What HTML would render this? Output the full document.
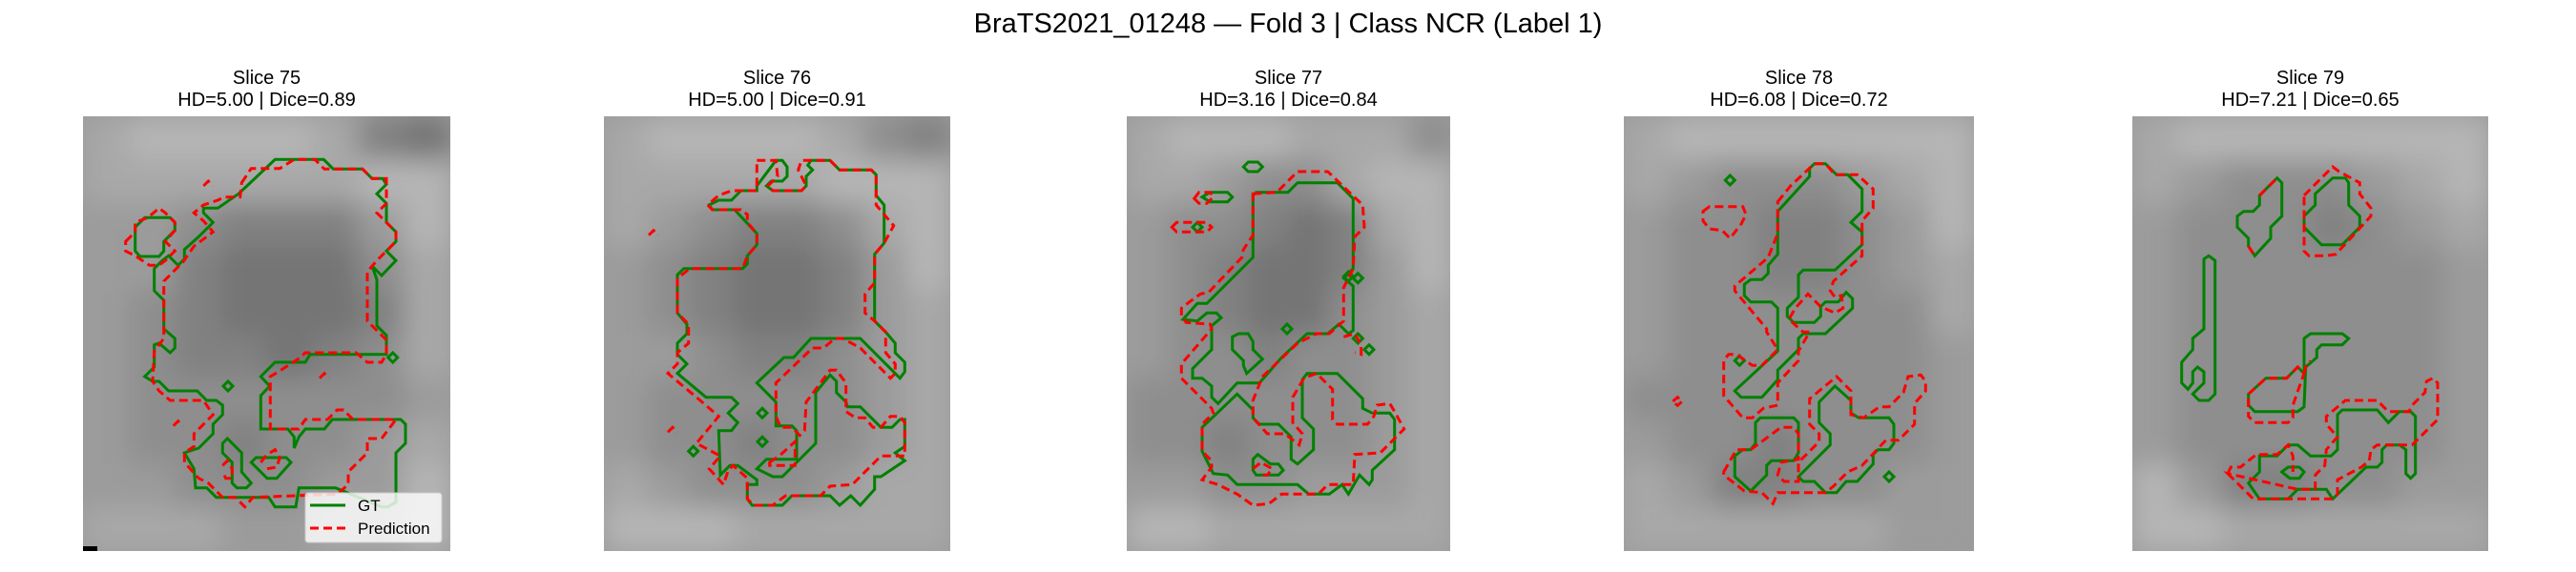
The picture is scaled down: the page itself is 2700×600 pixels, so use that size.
<!DOCTYPE html>
<html><head><meta charset="utf-8"><style>
html,body{margin:0;padding:0;background:#fff;}
svg{display:block;font-family:"Liberation Sans","DejaVu Sans",sans-serif;}
</style></head><body>
<svg id="fig" width="2700" height="600" viewBox="0 0 2700 600">
<defs><filter id="soft" x="-5%" y="-5%" width="110%" height="110%"><feGaussianBlur stdDeviation="14"/></filter></defs>
<text x="1350" y="34" font-size="29" text-anchor="middle" fill="#000">BraTS2021_01248 — Fold 3 | Class NCR (Label 1)</text>
</svg>
<script>
const panelTitles=["Slice 75","Slice 76","Slice 77","Slice 78","Slice 79"];
const hdValues=["5.00","5.00","3.16","6.08","7.21"];
const diceValues=["0.89","0.91","0.84","0.72","0.65"];
const panelBoxes=[[87,122,385,456,80,115],[633,122,363,456,630,115],[1181,122,339,456,1180,115],[1702,122,367,456,1700,115],[2235,122,373,456,2235,115]];
const intensity=[
["67777632","66666677","55433357","55322246","54322236","54332346","54444445","54434456","55444557","66655667"],
["67777643","66666777","65433467","54322357","54322356","55433456","54444456","54434456","65444566","77766666"],
["67776664","66544677","54432367","54322357","54322456","54434456","44444456","44344456","55445556","77666666"],
["67777777","65444567","54433457","54433456","54444446","54444445","44444445","54434445","65334455","66666655"],
["67777777","65444567","54443456","54444445","54444445","54444445","54444445","54444445","75334455","77666666"]];
const gtContours=[
["625,157 778,157 808,187 900,187 930,217 963,217 975,235 945,265 975,295 975,355 1005,385 1005,415 975,445 1005,475 960,522 930,492 945,535 945,680 975,710 975,770 735,770 720,795 625,795 580,840 608,870 580,900 580,1005 665,1005 685,1030 685,1065 700,1030 720,1005 780,1005 805,975 1020,975 1035,990 1035,1050 1005,1080 1005,1235 980,1250 960,1250 815,1190 700,1190 690,1250 625,1250 605,1220 440,1220 410,1190 375,1190 370,1130 340,1080 385,1065 430,1020 430,990 460,960 460,930 440,915 410,915 380,885 290,885 260,855 240,855 215,840 245,810 245,740 260,735 295,765 310,750 310,720 275,690 275,600 245,570 245,500 270,475 290,460 320,490 340,470 340,440 385,400 430,355 400,325 400,310 445,310 510,265",
"185,370 215,340 295,340 310,355 310,380 275,415 275,445 260,462 200,462 185,445",
"462,870 477,855 492,870 477,885","980,780 995,765 1010,780 995,795",
"460,1050 475,1035 520,1080 520,1140 550,1175 535,1190 505,1190 490,1175 490,1110 460,1080",
"550,1110 565,1095 660,1095 675,1110 630,1160 600,1160"],
["490,240 520,200 550,160 570,160 585,180 585,210 570,225 535,225 520,240 540,255 630,255 645,240 645,210 665,190 650,175 660,160 720,160 750,190 850,190 865,205 865,270 890,300 890,420 860,455 860,665 895,700 925,735 925,765 955,795 955,825 940,845 815,720 660,720 605,780 575,780 490,860 550,920 550,995 600,995 615,1010 615,1100 520,1100 490,1130 540,1155 570,1155 675,1050 675,890 720,835 740,855 740,890 770,920 775,935 815,935 880,1000 915,1000 940,975 955,975 955,1060 925,1080 955,1105 880,1155 860,1155 860,1195 815,1245 785,1215 750,1245 720,1215 600,1215 570,1245 475,1245 460,1225 460,1180 490,1180 490,1165 430,1120 405,1120 375,1150 370,1010 410,1010 430,985 400,955 430,925 410,905 330,905 240,830 270,800 240,770 240,735 270,705 270,675 240,640 240,520 260,500 445,500 460,485 460,460 490,425 490,390 420,315 350,315 340,300 370,285 410,285 440,255 490,255",
"492,955 507,940 522,955 507,970","492,1045 507,1030 522,1045 507,1060","275,1075 290,1060 305,1075 290,1090"],
["400,270 410,260 510,260 540,230 665,230 715,280 715,500 685,530 715,555 715,695 700,705 670,675 635,705 570,705 490,780 420,860 350,860 290,925 270,905 270,870 240,845 210,845 210,815 270,755 270,680 300,655 285,640 255,640 225,665 180,660 225,610 255,610 400,465",
"240,1000 350,895 400,945 400,970 420,990 480,990 520,1030 520,1100 540,1115 590,1070 590,1005 555,970 555,850 570,830 665,830 745,910 745,940 775,955 830,955 845,975 845,1070 775,1135 775,1165 765,1180 735,1150 700,1210 680,1180 640,1210 575,1210 540,1180 350,1180 320,1150 275,1145 240,1075",
"335,715 355,705 385,705 400,730 400,755 430,785 380,830 370,805 370,790 335,755",
"370,180 385,165 415,165 430,180 415,195 385,195","240,275 265,260 320,260 335,275 320,290 265,290",
"210,370 225,355 240,370 225,385","492,690 507,675 522,690 507,705","715,530 730,515 745,530 730,545","685,525 700,510 715,525 700,540","715,720 730,705 745,720 730,735","750,755 765,740 780,755 765,770",
"400,1100 415,1085 455,1115 480,1115 495,1135 480,1150 410,1150 400,1135"],
["490,320 590,210 590,185 605,170 640,170 675,205 710,205 755,250 755,320 720,355 755,385 755,425 670,505 570,505 555,520 555,590 520,625 520,650 540,670 605,670 625,650 625,620 640,605 680,605 705,575 725,595 725,625 640,705 570,705 555,720 555,755 490,820 490,850 440,905 375,905 355,885 490,760 490,625 470,605 405,605 385,585 385,550 405,535 440,535 460,515 460,490 490,455",
"355,1090 380,1070 405,1070 420,1050 420,985 435,970 540,970 555,985 555,1080 540,1105 470,1105 455,1120 455,1150 405,1200 355,1155",
"555,1155 655,1055 655,1020 620,985 620,920 670,870 720,915 720,955 745,970 840,970 855,990 855,1050 840,1070 805,1070 790,1085 790,1115 740,1170 705,1170 675,1205 640,1205 605,1170 570,1170",
"325,222 340,207 355,222 340,237","355,790 370,775 385,790 370,805","825,1155 840,1140 855,1155 840,1170"],
["330,335 350,320 380,320 400,300 400,270 455,215 470,230 470,335 435,370 435,405 385,460 365,430 365,405 330,370",
"540,335 575,300 575,265 630,215 670,215 680,230 680,300 715,335 715,370 660,425 595,425 540,370",
"225,470 240,460 260,475 260,895 240,915 210,915 190,895 225,860 225,825 205,810 190,825 190,860 175,880 155,860 155,795 190,755 190,720 225,690",
"365,895 420,845 485,845 520,810 540,830 540,780 540,720 560,705 660,705 680,720 660,740 595,740 580,755 580,780 545,810 540,935 520,950 385,950 365,930",
"365,1175 400,1140 400,1090 455,1090 490,1055 520,1055 560,1090 625,1090 645,1070 645,960 660,945 770,945 805,985 840,950 875,950 890,965 890,1145 875,1160 860,1145 860,1070 840,1055 800,1055 785,1070 785,1110 770,1125 735,1125 630,1225 610,1195 520,1195 490,1225 400,1225",
"470,1140 490,1125 525,1125 540,1140 525,1160 495,1160"]];
const predContours=[
["520,230 550,185 640,185 685,157 750,157 780,187 900,187 930,217 975,217 975,295 945,325 975,355 1005,385 1005,415 945,475 915,510 915,665 945,695 975,725 975,770 960,795 915,795 880,765 720,765 705,780 635,825 610,840 610,1005 700,1005 720,975 790,975 820,945 840,945 870,975 1005,975 960,1035 915,1035 915,1080 855,1140 855,1180 820,1210 555,1220 530,1250 500,1220 460,1220 415,1175 385,1160 340,1110 340,1080 370,1060 370,1020 430,960 400,915 295,915 260,885 240,855 245,760 275,720 275,540 335,480 370,430 430,385 400,350 370,325 400,300 445,285 465,275 515,275",
"155,415 185,385 185,355 225,340 260,310 280,325 310,355 310,380 280,415 310,445 280,475 260,490 230,490 185,460 155,445",
"400,240 415,225 430,240","765,845 780,830 795,845","305,995 320,980 335,995",
"460,1120 475,1105 490,1130 490,1160 470,1160 460,1140","580,1110 600,1085 625,1070 640,1095 630,1125 600,1130"],
["490,160 550,160 555,210 525,240 540,255 630,255 645,240 620,190 630,160 720,160 750,190 850,190 865,205 865,300 920,365 890,420 860,455 860,545 830,580 830,640 860,665 895,700 895,765 925,800 925,830 910,845 815,750 760,720 735,720 700,750 665,750 550,860 550,965 565,1000 600,1000 625,1025 640,1010 645,920 720,820 740,820 770,860 770,950 800,970 830,970 855,1000 880,1000 910,965 940,965 955,985 955,1090 880,1090 790,1180 720,1185 690,1215 580,1215 540,1245 480,1245 460,1225 460,1160 415,1120 400,1135 385,1180 340,1130 375,1090 300,1050 370,965 300,905 210,830 240,800 240,765 275,735 275,675 240,640 240,530 280,500 445,500 460,460 490,425 490,390 460,355 460,330 440,315 350,315 335,300 370,270 410,255 490,255",
"530,1110 560,1090 610,1045 610,1120 530,1120","150,395 165,380 180,395","210,1015 225,1000 240,1015"],
["400,265 475,260 540,195 635,195 745,300 750,370 720,400 715,500 685,560 685,665 640,705 600,705 540,735 430,840 400,915 400,970 445,1020 500,1020 545,1055 555,1020 525,985 525,905 560,845 600,830 650,880 650,975 665,990 760,990 780,965 790,930 830,925 845,950 875,1005 800,1080 720,1085 715,1180 635,1180 605,1210 490,1210 450,1240 400,1245 350,1210 290,1180 240,1165 270,1125 270,1105 240,1075 240,990 275,955 270,940 175,845 175,800 270,690 265,675 190,670 175,650 175,625 200,605 235,580 260,575 365,465 370,440 400,395",
"145,370 160,355 255,355 270,370 255,385 160,385","215,280 230,260 265,260 275,275 255,295 230,295",
"685,715 720,705 740,740 740,770 720,765","400,1130 425,1110 460,1130 445,1150 420,1150"],
["490,290 530,240 605,170 640,170 670,205 740,205 790,250 790,310 755,350 755,460 665,540 655,570 670,590 690,585 695,625 670,640 625,620 585,580 545,625 525,660 570,700 590,700 555,760 555,790 490,860 490,930 445,940 410,970 380,970 320,900 320,790 335,770 360,770 410,805 440,805 490,755 455,700 455,690 355,570 355,555 460,465 490,390",
"255,320 275,305 380,305 390,330 375,360 340,405 315,380 275,375 255,350",
"320,1140 360,1070 405,1070 500,1000 540,1000 555,1020 555,1100 500,1110 490,1150 510,1170 555,1170 555,1110 620,1045 620,1020 590,990 590,910 675,840 720,885 720,960 760,970 810,935 840,935 885,890 900,840 940,835 955,855 955,885 920,925 920,990 870,1040 830,1040 755,1120 710,1140 665,1185 640,1205 490,1205 475,1240 440,1205 385,1200 320,1150",
"160,918 175,905 190,918 175,931"],
["540,270 630,180 650,195 715,230 715,265 750,310 750,335 640,455 610,460 555,460 540,445",
"365,895 420,845 485,845 520,810 540,830 505,930 505,970 490,985 385,985 365,965",
"300,1145 310,1125 340,1125 390,1085 455,1085 490,1055 505,1090 505,1140",
"300,1145 380,1225 625,1225 645,1210 645,1165 720,1125 745,1105 750,1070 770,1055 880,1055 945,990 960,975 960,860 945,845 925,855 920,890 880,930 870,950 805,950 770,915 670,915 610,965 610,990 645,1030 610,1070 605,1120 575,1150 575,1195 520,1195",
"400,270 455,215","365,430 385,460","540,830 545,810 560,790"]];
const closedPred=[[1,1,0,0,0,0,0],[1,1,0,0],[1,1,1,0,0],[1,1,1,1],[1,1,0,1,0,0,0]];

const NS="http://www.w3.org/2000/svg";
const svg=document.getElementById('fig');
const defs=svg.querySelector('defs');
function mk(tag,attrs,parent){const e=document.createElementNS(NS,tag);for(const k in attrs)e.setAttribute(k,attrs[k]);parent.appendChild(e);return e;}
function toPts(str,ox,oy){return str.split(' ').map(p=>{const [a,b]=p.split(',').map(Number);return (ox+a/3).toFixed(1)+','+(oy+b/3).toFixed(1);}).join(' ');}
function grayOf(L){const v=90+L*13;return 'rgb('+v+','+v+','+v+')';}

panelBoxes.forEach((b,i)=>{
  const [x,y,w,h,ox,oy]=b;
  const cp=mk('clipPath',{id:'clip'+i},defs);
  mk('rect',{x:x,y:y,width:w,height:h},cp);
  const g=mk('g',{},svg);
  
  
  const cx=x+w/2;
  const t1=mk('text',{x:cx,y:88,'font-size':20,'text-anchor':'middle',fill:'#000'},g);
  t1.textContent=panelTitles[i];
  
  
  const t2=mk('text',{x:cx,y:111,'font-size':20,'text-anchor':'middle',fill:'#000'},g);
  t2.textContent='HD='+hdValues[i]+' | Dice='+diceValues[i];
  
  
  const frame=mk('g',{'clip-path':'url(#clip'+i+')'},g);
  
  
  mk('rect',{x:x,y:y,width:w,height:h,fill:grayOf(5)},frame);
  const img=mk('g',{filter:'url(#soft)'},frame);
  const rows=intensity[i];const nr=rows.length,nc=rows[0].length;
  const cw=w/nc,ch=h/nr;
  rows.forEach((r,ri)=>{for(let ci=0;ci<nc;ci++){
    const c=mk('rect',{x:(x+ci*cw).toFixed(1),y:(y+ri*ch).toFixed(1),width:(cw+0.6).toFixed(1),height:(ch+0.6).toFixed(1),fill:grayOf(+r[ci])},img);
    
    
  }});
  gtContours[i].forEach(s=>{
    const p=mk('polygon',{points:toPts(s,ox,oy),fill:'none',stroke:'#008000','stroke-width':3,'stroke-linejoin':'miter'},g);
    
    
  });
  predContours[i].forEach((s,k)=>{
    const tag=closedPred[i][k]?'polygon':'polyline';
    const p=mk(tag,{points:toPts(s,ox,oy),fill:'none',stroke:'#ff0000','stroke-width':3,'stroke-dasharray':'9,5'},g);
    
    
  });
});
const mark=mk('rect',{x:87,y:573,width:15,height:5,fill:'#000'},svg);


const lg=mk('g',{},svg);


mk('rect',{x:320,y:517,width:143,height:52,rx:3,fill:'rgba(255,255,255,0.8)',stroke:'#cccccc','stroke-width':1},lg);
const l1=mk('g',{},lg);


mk('line',{x1:325,y1:530,x2:362,y2:530,stroke:'#008000','stroke-width':3},l1);
const lt1=mk('text',{x:375,y:536,'font-size':17,fill:'#000'},l1);lt1.textContent='GT';
const l2=mk('g',{},lg);


mk('line',{x1:325,y1:554,x2:362,y2:554,stroke:'#ff0000','stroke-width':3,'stroke-dasharray':'9,5'},l2);
const lt2=mk('text',{x:375,y:560,'font-size':17,fill:'#000'},l2);lt2.textContent='Prediction';
</script>
</body></html>
